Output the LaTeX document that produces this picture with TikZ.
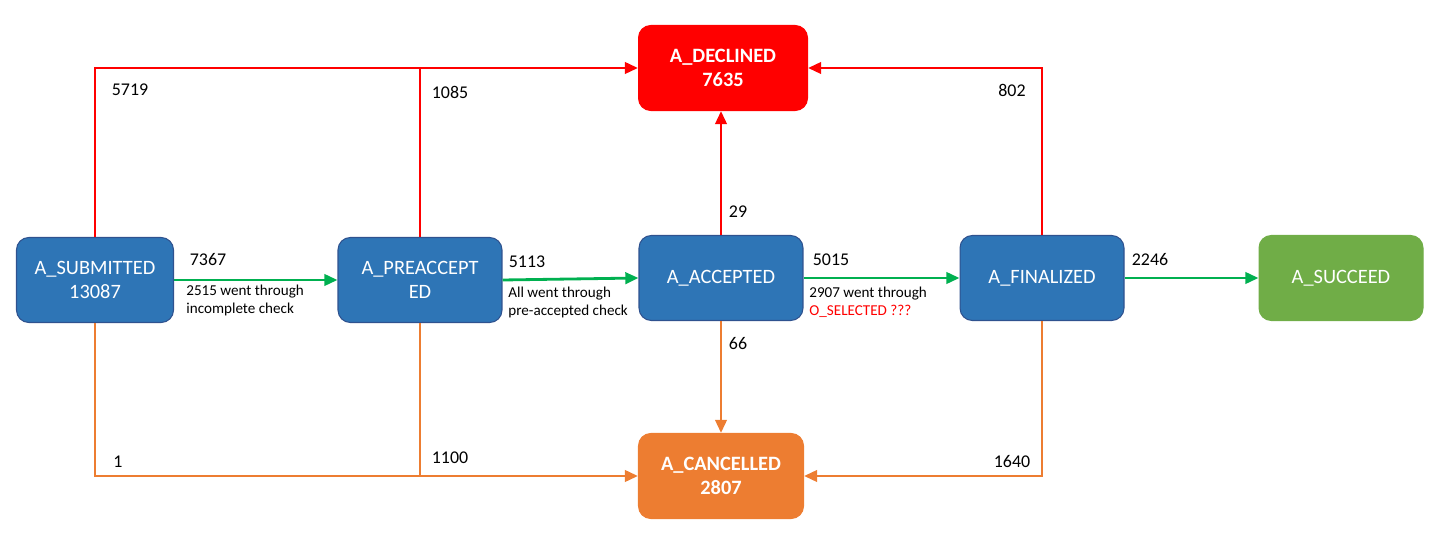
\documentclass[tikz,border=0pt]{standalone}
\usepackage{fontspec}
\setmainfont{Carlito}
\usetikzlibrary{arrows.meta,positioning}
\definecolor{stateblue}{RGB}{46,117,182}
\definecolor{stateedge}{RGB}{47,82,143}
\definecolor{declred}{RGB}{255,0,0}
\definecolor{cancorange}{RGB}{237,125,49}
\definecolor{succgreen}{RGB}{112,173,71}
\definecolor{flowgreen}{RGB}{0,176,80}

\begin{document}
\begin{tikzpicture}[x=0.02cm,y=-0.02cm,->,>={Triangle[length=7.5pt,width=6.5pt]},
  line width=1.6pt,
  state/.style={rectangle,rounded corners=7pt,draw=stateedge,fill=stateblue,
    line width=0.6pt,text=white,minimum width=3.28cm,minimum height=1.7cm,
    align=center,font=\fontsize{11.6}{14}\selectfont},
  count/.style={font=\fontsize{10.2}{12}\selectfont},
  note/.style={font=\fontsize{8.6}{10}\selectfont,align=left,anchor=north west,inner sep=0pt},
  fail/.style={declred},
  stop/.style={cancorange},
  pass/.style={flowgreen}]

  \useasboundingbox (0,0) rectangle (1439,543);

  \node[state,minimum width=3.14cm] (sub) at (95,280) {A\_SUBMITTED\\13087};
  \node[state] (pre) at (420,280) {A\_PREACCEPT\\ED};
  \node[state] (acc) at (721,278) {A\_ACCEPTED};
  \node[state] (fin) at (1042,278) {A\_FINALIZED};
  \node[state,draw=succgreen,fill=succgreen] (suc) at (1341,278) {A\_SUCCEED};
  \node[state,draw=declred,fill=declred,minimum width=3.38cm,font=\fontsize{11.6}{14}\selectfont\bfseries]
    (dec) at (723,68) {A\_DECLINED\\7635};
  \node[state,draw=cancorange,fill=cancorange,minimum width=3.3cm,font=\fontsize{11.6}{14}\selectfont\bfseries]
    (can) at (721,476) {A\_CANCELLED\\2807};

  % declined
  \draw[fail] (sub.north) |- (dec.west);
  \draw[fail,-] (pre.north) -- (pre |- dec.west);
  \draw[fail] (acc.north) -- (acc.north |- dec.south);
  \draw[fail] (fin.north) |- (dec.east);
  % cancelled
  \draw[stop] (sub.south) |- (can.west);
  \draw[stop,-] (pre.south) -- (pre |- can.west);
  \draw[stop] (acc.south) -- (acc.south |- can.north);
  \draw[stop] (fin.south) |- (can.east);
  % main flow
  \draw[pass] (sub) -- (pre);
  \draw[pass] (pre.east) -- (acc.west);
  \draw[pass] (acc) -- (fin);
  \draw[pass] (fin) -- (suc);

  \node[count] (n1) at (130,90) {5719};
  \node[count] (n2) at (450,92) {1085};
  \node[count] (n3) at (738,212) {29};
  \node[count] (n4) at (1012,90) {802};
  \node[count] (n5) at (118,462) {1};
  \node[count] (n6) at (450,458) {1100};
  \node[count] (n7) at (738,344) {66};
  \node[count] (n8) at (1012,462) {1640};
  \node[count] (n9) at (208,260) {7367};
  \node[count] (n10) at (527,262) {5113};
  \node[count] (n11) at (831,260) {5015};
  \node[count] (n12) at (1150,260) {2246};

  \node[note] (t1) at (185,284) {2515 went through\\incomplete check};
  \node[note] (t2) at (507,286) {All went through\\pre-accepted check};
  \node[note] (t3) at (808,286) {2907 went through\\\textcolor{declred}{O\_SELECTED ???}};
\end{tikzpicture}
\end{document}
